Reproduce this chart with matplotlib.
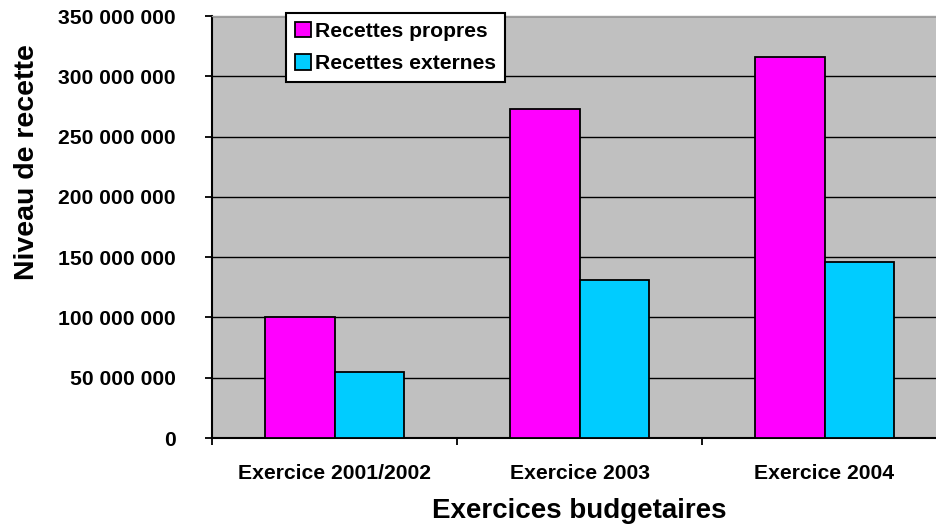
import matplotlib
matplotlib.use("Agg")
import matplotlib.pyplot as plt
from matplotlib.ticker import FuncFormatter, MultipleLocator, FixedLocator
from matplotlib.patches import Patch
import numpy as np

categories = ["Exercice 2001/2002", "Exercice 2003", "Exercice 2004"]
recettes_propres = [100_000_000, 273_000_000, 316_000_000]
recettes_externes = [54_500_000, 131_000_000, 146_000_000]
series_names = ["Recettes propres", "Recettes externes"]

plt.rcParams["font.family"] = ["Liberation Sans", "DejaVu Sans"]
plt.rcParams["font.weight"] = "bold"

W, H, DPI = 936, 531, 100
fig = plt.figure(figsize=(W / DPI, H / DPI), dpi=DPI)
left, right, bottom, top = 212 / W, 947 / W, 1 - 438 / H, 1 - 16 / H
ax = fig.add_axes([left, bottom, right - left, top - bottom])
ax.set_facecolor("#C0C0C0")

x = np.arange(len(categories))
bw = 0.2857
ax.bar(x - bw / 2, recettes_propres, bw, color="#FF00FF", edgecolor="black",
       linewidth=1.3, zorder=3)
ax.bar(x + bw / 2, recettes_externes, bw, color="#00CCFF", edgecolor="black",
       linewidth=1.3, zorder=3)

ax.set_xlim(-0.5, 2.5)
ax.set_ylim(0, 350_000_000)
ax.yaxis.set_major_locator(MultipleLocator(50_000_000))
ax.yaxis.set_major_formatter(FuncFormatter(lambda v, p: f"{int(v):,}".replace(",", " ")))
ax.grid(axis="y", color="black", linewidth=1.0, zorder=1)

ax.set_xticks(x)
ax.set_xticklabels(categories, fontsize=15.2, fontweight="bold")
ax.xaxis.set_minor_locator(FixedLocator([-0.5, 0.5, 1.5, 2.5]))
ax.tick_params(axis="x", which="major", length=0, pad=19)
ax.tick_params(axis="x", which="minor", length=5, width=1.3, direction="out")
ax.tick_params(axis="y", which="major", length=5, width=1.3, direction="out",
               pad=21, labelsize=15.2)
for lab in ax.get_yticklabels():
    lab.set_fontweight("bold")

for s in ("left", "bottom"):
    ax.spines[s].set_linewidth(1.5)
    ax.spines[s].set_color("black")
ax.spines["top"].set_color("#A0A0A0")
ax.spines["top"].set_linewidth(1.0)
ax.spines["right"].set_visible(False)

fig.text(579 / W, 1 - 511 / H, "Exercices budgetaires", ha="center", va="center",
         fontsize=20, fontweight="bold")
fig.text(27 / W, 1 - 162 / H, "Niveau de recette", ha="center", va="center",
         rotation=90, fontsize=20.5, fontweight="bold")

handles = [Patch(facecolor="#FF00FF", edgecolor="black", linewidth=1.3),
           Patch(facecolor="#00CCFF", edgecolor="black", linewidth=1.3)]
leg = ax.legend(handles, series_names, loc="upper left",
                bbox_to_anchor=(286 / W, 1 - 13 / H), bbox_transform=fig.transFigure,
                prop={"size": 15.2, "weight": "bold"}, fancybox=False, framealpha=1,
                edgecolor="black", handlelength=0.75, handleheight=0.75,
                handletextpad=0.2, borderpad=0.42, labelspacing=0.62,
                borderaxespad=0)
leg.get_frame().set_linewidth(1.5)
leg.set_zorder(5)

fig.savefig("out.png", dpi=DPI)
